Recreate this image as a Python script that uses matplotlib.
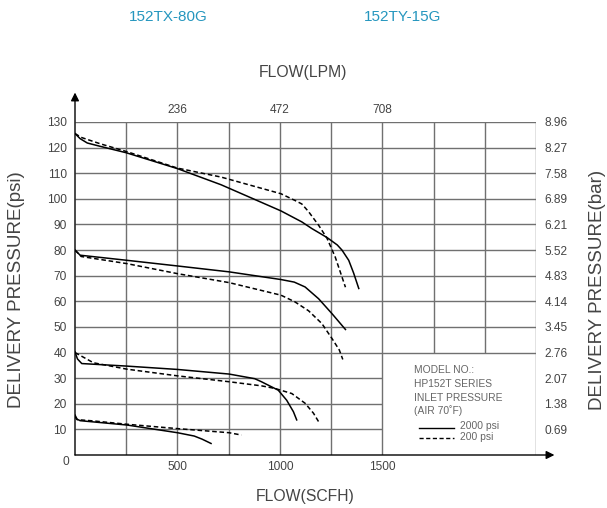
import matplotlib
matplotlib.use("Agg")
import matplotlib.pyplot as plt

plt.rcParams['font.family'] = ['Liberation Sans', 'DejaVu Sans']

# curves (flow in SCFH, pressure in psi)
x_125_hi = [0, 25, 60, 123, 250, 500, 713, 1005, 1107, 1156, 1230, 1280, 1303, 1336, 1360, 1385]
y_125_hi = [125.5, 123.5, 121.8, 120.5, 118, 111.8, 105.5, 95.3, 91, 88.4, 84.9, 82, 80, 76, 71, 65]
x_125_lo = [0, 30, 123, 250, 500, 713, 1005, 1073, 1107, 1140, 1189, 1230, 1270, 1320]
y_125_lo = [125.5, 124, 121.5, 118.5, 112, 108.5, 102, 99.4, 98, 95, 89.7, 84.6, 77.3, 65.5]

x_80_hi = [0, 25, 254, 500, 752, 1005, 1070, 1123, 1189, 1254, 1320]
y_80_hi = [80, 78, 76, 73.8, 71.5, 68.5, 67.5, 65.6, 61, 55.2, 49]
x_80_lo = [0, 30, 254, 500, 752, 1005, 1073, 1140, 1205, 1254, 1290, 1307]
y_80_lo = [80, 77.5, 74.7, 70.8, 67.3, 62.4, 59.8, 56.3, 51.3, 45.5, 41, 37.3]

x_40_hi = [0, 12, 33, 254, 500, 752, 877, 910, 992, 1033, 1066, 1082]
y_40_hi = [40.3, 37.5, 35.7, 34.7, 33.4, 31.6, 29.8, 28.6, 25.3, 21.4, 16.9, 13.7]
x_40_lo = [0, 90, 254, 500, 752, 910, 975, 1058, 1123, 1164, 1192]
y_40_lo = [40, 36, 33.5, 30.9, 28.6, 27, 26, 24, 20.2, 16.3, 12.6]

x_15_hi = [0, 10, 25, 254, 500, 582, 620, 664]
y_15_hi = [15.6, 14, 13.4, 11.7, 8.7, 7.4, 6.2, 4.5]
x_15_lo = [0, 10, 90, 254, 500, 752, 812]
y_15_lo = [15, 13.8, 13.3, 12, 10.3, 8.7, 7.8]

psi_ticks = list(range(10, 140, 10))
bar_labels = ['0.69', '1.38', '2.07', '2.76', '3.45', '4.14', '4.83',
              '5.52', '6.21', '6.89', '7.58', '8.27', '8.96']
scfh_ticks = [500, 1000, 1500]
lpm_labels = ['236', '472', '708']

txt = '#444444'
gridc = '#707070'
teal = '#2596be'

W, H = 607, 508
fig = plt.figure(figsize=(6.07, 5.08), dpi=100)
ax = fig.add_axes([75 / W, 1 - 455 / H, (536 - 75) / W, (455 - 122) / H])
ax.set_xlim(0, 2250)
ax.set_ylim(0, 130)

# grid (legend box cuts into the lower right corner)
for x in range(250, 2251, 250):
    ax.vlines(x, 40 if x in (1750, 2000) else 0, 130, color=gridc, lw=1, zorder=1)
for y in psi_ticks:
    ax.hlines(y, 0, 1500 if y < 40 else 2250, color=gridc, lw=1, zorder=1)

for s in ax.spines.values():
    s.set_visible(False)

# axes with arrow heads
ax.annotate('', xy=(0, 141.5), xytext=(0, 0), annotation_clip=False,
            arrowprops=dict(arrowstyle='-|>', color='black', lw=1, mutation_scale=12,
                            shrinkA=0, shrinkB=0))
ax.annotate('', xy=(2340, 0), xytext=(0, 0), annotation_clip=False,
            arrowprops=dict(arrowstyle='-|>', color='black', lw=1, mutation_scale=12,
                            shrinkA=0, shrinkB=0))

dash = (3, 1.8)
kw = dict(color='black', lw=1.1, zorder=3)
ax.plot(x_125_hi, y_125_hi, **kw)
ax.plot(x_125_lo, y_125_lo, dashes=dash, **kw)
ax.plot(x_80_hi, y_80_hi, **kw)
ax.plot(x_80_lo, y_80_lo, dashes=dash, **kw)
ax.plot(x_40_hi, y_40_hi, **kw)
ax.plot(x_40_lo, y_40_lo, dashes=dash, **kw)
ax.plot(x_15_hi, y_15_hi, **kw)
ax.plot(x_15_lo, y_15_lo, dashes=dash, **kw)

ax.set_yticks(psi_ticks)
ax.set_yticklabels([str(v) for v in psi_ticks])
ax.set_xticks(scfh_ticks)
ax.set_xticklabels([str(v) for v in scfh_ticks])
ax.tick_params(axis='both', length=0, labelsize=8.6, labelcolor=txt)
ax.tick_params(axis='y', pad=6)
ax.tick_params(axis='x', pad=4)
fig.text(66 / W, 1 - 462 / H, '0', fontsize=8.6, color=txt, ha='center', va='center')

axr = ax.twinx()
axr.set_ylim(0, 130)
axr.set_yticks(psi_ticks)
axr.set_yticklabels(bar_labels)
axr.tick_params(length=0, labelsize=8.6, labelcolor=txt, pad=6)
axt = ax.twiny()
axt.set_xlim(0, 2250)
axt.set_xticks(scfh_ticks)
axt.set_xticklabels(lpm_labels)
axt.tick_params(length=0, labelsize=8.6, labelcolor=txt, pad=4)
for a in (axr, axt):
    for s in a.spines.values():
        s.set_visible(False)

# legend box text
lx = 1655
ax.text(lx, 33.2, 'MODEL NO.:', fontsize=7.4, color='#666666', va='center')
ax.text(lx, 27.7, 'HP152T SERIES', fontsize=7.4, color='#666666', va='center')
ax.text(lx, 22.3, 'INLET PRESSURE', fontsize=7.4, color='#666666', va='center')
ax.text(lx, 17.2, '(AIR 70\u02daF)', fontsize=7.4, color='#666666', va='center')
ax.plot([1680, 1850], [10.6, 10.6], color='black', lw=1)
ax.plot([1680, 1850], [6.6, 6.6], color='black', lw=1, dashes=(3, 1.8))
ax.text(1878, 11.2, '2000 psi', fontsize=7.4, color='#666666', va='center')
ax.text(1878, 6.9, '200 psi', fontsize=7.4, color='#666666', va='center')

# headings and axis titles
fig.text(168 / W, 1 - 17 / H, '152TX-80G', fontsize=11, color=teal, ha='center', va='center')
fig.text(403 / W, 1 - 17 / H, '152TY-15G', fontsize=11, color=teal, ha='center', va='center')
fig.text(303 / W, 1 - 72 / H, 'FLOW(LPM)', fontsize=11.3, color=txt, ha='center', va='center')
fig.text(305 / W, 1 - 497 / H, 'FLOW(SCFH)', fontsize=11.3, color=txt, ha='center', va='center')
fig.text(17 / W, 1 - 290 / H, 'DELIVERY PRESSURE(psi)', fontsize=13.5, color=txt,
         rotation=90, ha='center', va='center')
fig.text(598 / W, 1 - 290 / H, 'DELIVERY PRESSURE(bar)', fontsize=13.5, color=txt,
         rotation=90, ha='center', va='center')

fig.savefig('out.png', dpi=100)
